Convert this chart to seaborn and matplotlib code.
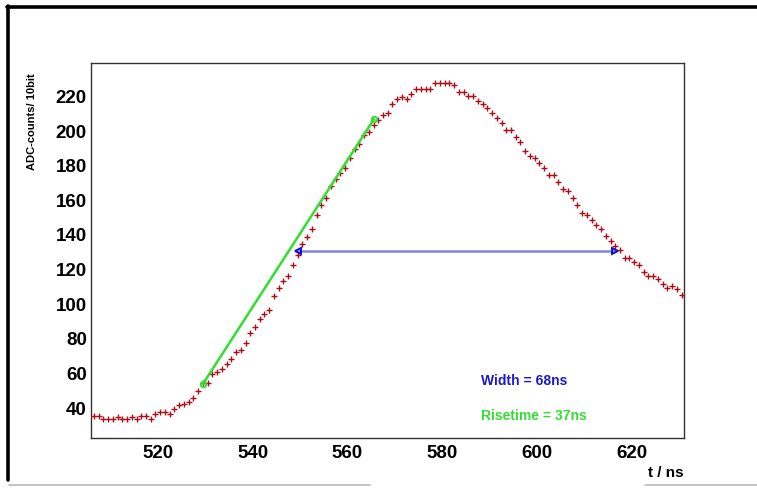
import numpy as np
import pandas as pd
import matplotlib
matplotlib.use("Agg")
import matplotlib.pyplot as plt
from matplotlib.lines import Line2D
from matplotlib.ticker import MultipleLocator
import seaborn as sns

# ADC samples of one pulse, 1 ns bins starting at 506.5 ns
t_first = 506.5
adc_counts = [
    35, 35, 33, 33, 33, 34, 33, 33, 34, 33, 35, 35, 33, 36, 37, 37, 36, 39, 41, 42,
    43, 45, 49, 54, 54, 59, 60, 62, 65, 68, 72, 73, 77, 83, 86, 91, 94, 96, 104, 109,
    113, 116, 122, 128, 134, 138, 143, 151, 157, 161, 168, 172, 175, 178, 184, 189, 192, 197, 199, 203,
    206, 209, 210, 215, 218, 219, 218, 221, 224, 224, 224, 224, 227, 227, 227, 227, 226, 222, 222, 220,
    220, 217, 215, 213, 210, 207, 204, 200, 200, 196, 193, 188, 185, 184, 181, 178, 174, 174, 170, 166,
    165, 161, 157, 152, 151, 148, 145, 143, 139, 136, 133, 131, 126, 126, 124, 122, 118, 116, 116, 114,
    111, 109, 110, 108, 105,
]
t_ns = t_first + np.arange(len(adc_counts))

# rise-time segment (10 % -> 90 %) and width at half maximum
rise_t = [529.5, 565.6]
rise_adc = [53.3, 206.4]
width_t = [549.6, 616.4]
width_adc = [130.0, 130.0]
width_text = "Width = 68ns"
rise_text = "Risetime = 37ns"

df = pd.DataFrame({"t": t_ns, "adc": adc_counts})
df_rise = pd.DataFrame({"t": rise_t, "adc": rise_adc})
df_width = pd.DataFrame({"t": width_t, "adc": width_adc})

sns.set_style("white")
plt.rcParams["font.family"] = ["Liberation Sans", "DejaVu Sans"]
plt.rcParams["font.weight"] = "bold"
plt.rcParams["text.color"] = "black"
plt.rcParams["axes.labelcolor"] = "black"
plt.rcParams["xtick.labelcolor"] = "black"
plt.rcParams["ytick.labelcolor"] = "black"

W, H = 757, 489
fig = plt.figure(figsize=(W / 100, H / 100), dpi=100)
ax = fig.add_axes([91 / W, 1 - 439 / H, (684 - 91) / W, (439 - 64) / H])

sns.scatterplot(data=df, x="t", y="adc", marker="+", color="#a8101c",
                s=24, linewidth=1.0, ax=ax, zorder=3)
sns.lineplot(data=df_width, x="t", y="adc", color="#8484dc", linewidth=1.8,
             ax=ax, zorder=2)
ax.plot(width_t[0], width_adc[0], marker="<", color="#1010d0", markersize=4,
        markerfacecolor="none", markeredgewidth=1.4, zorder=4)
ax.plot(width_t[1], width_adc[1], marker=">", color="#1010d0", markersize=4,
        markerfacecolor="none", markeredgewidth=1.4, zorder=4)
sns.lineplot(data=df_rise, x="t", y="adc", color="#2fe02f", linewidth=1.8,
             marker="o", markersize=4, markerfacecolor="none",
             markeredgecolor="#2fe02f", markeredgewidth=1.3, ax=ax, zorder=4)

ax.text(588.1, 55.6, width_text, color="#1a1acc", fontsize=10,
        fontweight="bold", va="center", ha="left")
ax.text(588.1, 35.4, rise_text, color="#33dd33", fontsize=10,
        fontweight="bold", va="center", ha="left")

ax.set_xlim(505.9, 631.0)
ax.set_ylim(22.1, 238.8)
ax.xaxis.set_major_locator(MultipleLocator(20))
ax.xaxis.set_minor_locator(MultipleLocator(5))
ax.yaxis.set_major_locator(MultipleLocator(20))
ax.yaxis.set_minor_locator(MultipleLocator(5))

ax.tick_params(axis="x", which="major", direction="in", length=8, width=0.9,
               color="#333333", labelsize=13.5, pad=4, labelcolor="black")
ax.tick_params(axis="x", which="minor", direction="in", length=4, width=0.9,
               color="#333333")
ax.tick_params(axis="y", which="major", direction="in", length=14, width=0.9,
               color="#333333", labelsize=13.5, pad=3, labelcolor="black")
ax.tick_params(axis="y", which="minor", direction="in", length=7, width=0.9,
               color="#333333")
for lab in ax.get_xticklabels() + ax.get_yticklabels():
    lab.set_fontweight("bold")

for sp in ax.spines.values():
    sp.set_color("#333333")
    sp.set_linewidth(1.0)

ax.set_xlabel("t / ns", fontsize=11, fontweight="bold", loc="right", color="black")
ax.xaxis.set_label_coords(1.0, -0.072)
ax.set_ylabel("ADC-counts/ 10bit", fontsize=8, fontweight="bold", loc="top", color="black")
ax.yaxis.set_label_coords(-0.091, 0.976)

# canvas border
fig.add_artist(Line2D([7 / W, 1.0], [1 - 8 / H, 1 - 8 / H], color="black",
                      linewidth=2.6, transform=fig.transFigure))
fig.add_artist(Line2D([8 / W, 8 / W], [1 - 7 / H, 1 - 481 / H], color="black",
                      linewidth=2.6, transform=fig.transFigure))
fig.add_artist(Line2D([9 / W, 370 / W], [1 - 486 / H, 1 - 486 / H], color="#bbbbbb",
                      linewidth=1.2, transform=fig.transFigure))
fig.add_artist(Line2D([645 / W, 1.0], [1 - 486 / H, 1 - 486 / H], color="#bbbbbb",
                      linewidth=1.2, transform=fig.transFigure))

fig.savefig("out.png", dpi=100, facecolor="white")
